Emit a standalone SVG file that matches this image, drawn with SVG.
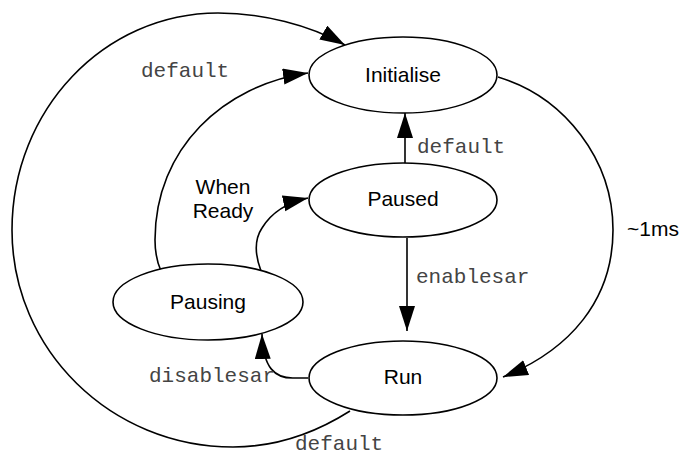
<svg xmlns="http://www.w3.org/2000/svg" width="680" height="457" viewBox="0 0 680 457">
<defs>
<style>
.node ellipse{fill:#fff;stroke:#000;stroke-width:1.6}
.node text{font-family:"Liberation Sans",Arial,sans-serif;font-size:21px;fill:#000;text-anchor:middle}
.edges path{fill:none;stroke:#000;stroke-width:1.6;marker-end:url(#ah)}
.lbl{font-family:"Liberation Mono","Courier New",monospace;font-size:21px;fill:#444}
.slbl{font-family:"Liberation Sans",Arial,sans-serif;font-size:21px;fill:#000}
</style>
<marker id="ah" markerUnits="userSpaceOnUse" markerWidth="26" markerHeight="18" refX="25" refY="8" orient="auto">
<path d="M0,0 L25,8 L0,16 z" fill="#000"/>
</marker>
</defs>
<rect width="680" height="457" fill="#fff"/>
<g id="connectors" class="edges">
<path d="M350,411 C320,430 280,447 233,447 C111,447 12,350 12,230 C12,110 104,13 218,13 C262,13 310,25 345,45"/>
<path d="M161,271 C157,262 155,250 155,240 C155,148 224,85 308,73"/>
<path d="M261,271 C255,255 254,240 262,228 C270,215 285,203 308,198"/>
<path d="M308,378 L295,378 C275,379 263,368 262,334"/>
<path d="M498,77 C565,97 613,160 613,230 C613,300 570,350 503,377"/>
<path d="M405,163 L405,113"/>
<path d="M407,238 L407,331"/>
</g>
<g id="labels">
<text class="lbl" x="141" y="77">default</text>
<text class="lbl" x="417" y="153">default</text>
<text class="lbl" x="416" y="283">enablesar</text>
<text class="lbl" x="149" y="382">disablesar</text>
<text class="lbl" x="295" y="450">default</text>
<text class="slbl" x="223" y="194" text-anchor="middle">When</text>
<text class="slbl" x="223" y="218" text-anchor="middle">Ready</text>
<text class="slbl" x="627" y="236">~1ms</text>
</g>
<g id="initialise" class="node"><ellipse cx="403" cy="75" rx="94" ry="38"/><text x="403" y="82">Initialise</text></g>
<g id="paused" class="node"><ellipse cx="403" cy="200" rx="94" ry="37"/><text x="403" y="206">Paused</text></g>
<g id="run" class="node"><ellipse cx="403" cy="378" rx="94" ry="37"/><text x="403" y="384">Run</text></g>
<g id="pausing" class="node"><ellipse cx="208" cy="302" rx="95" ry="38"/><text x="208" y="309">Pausing</text></g>
</svg>
